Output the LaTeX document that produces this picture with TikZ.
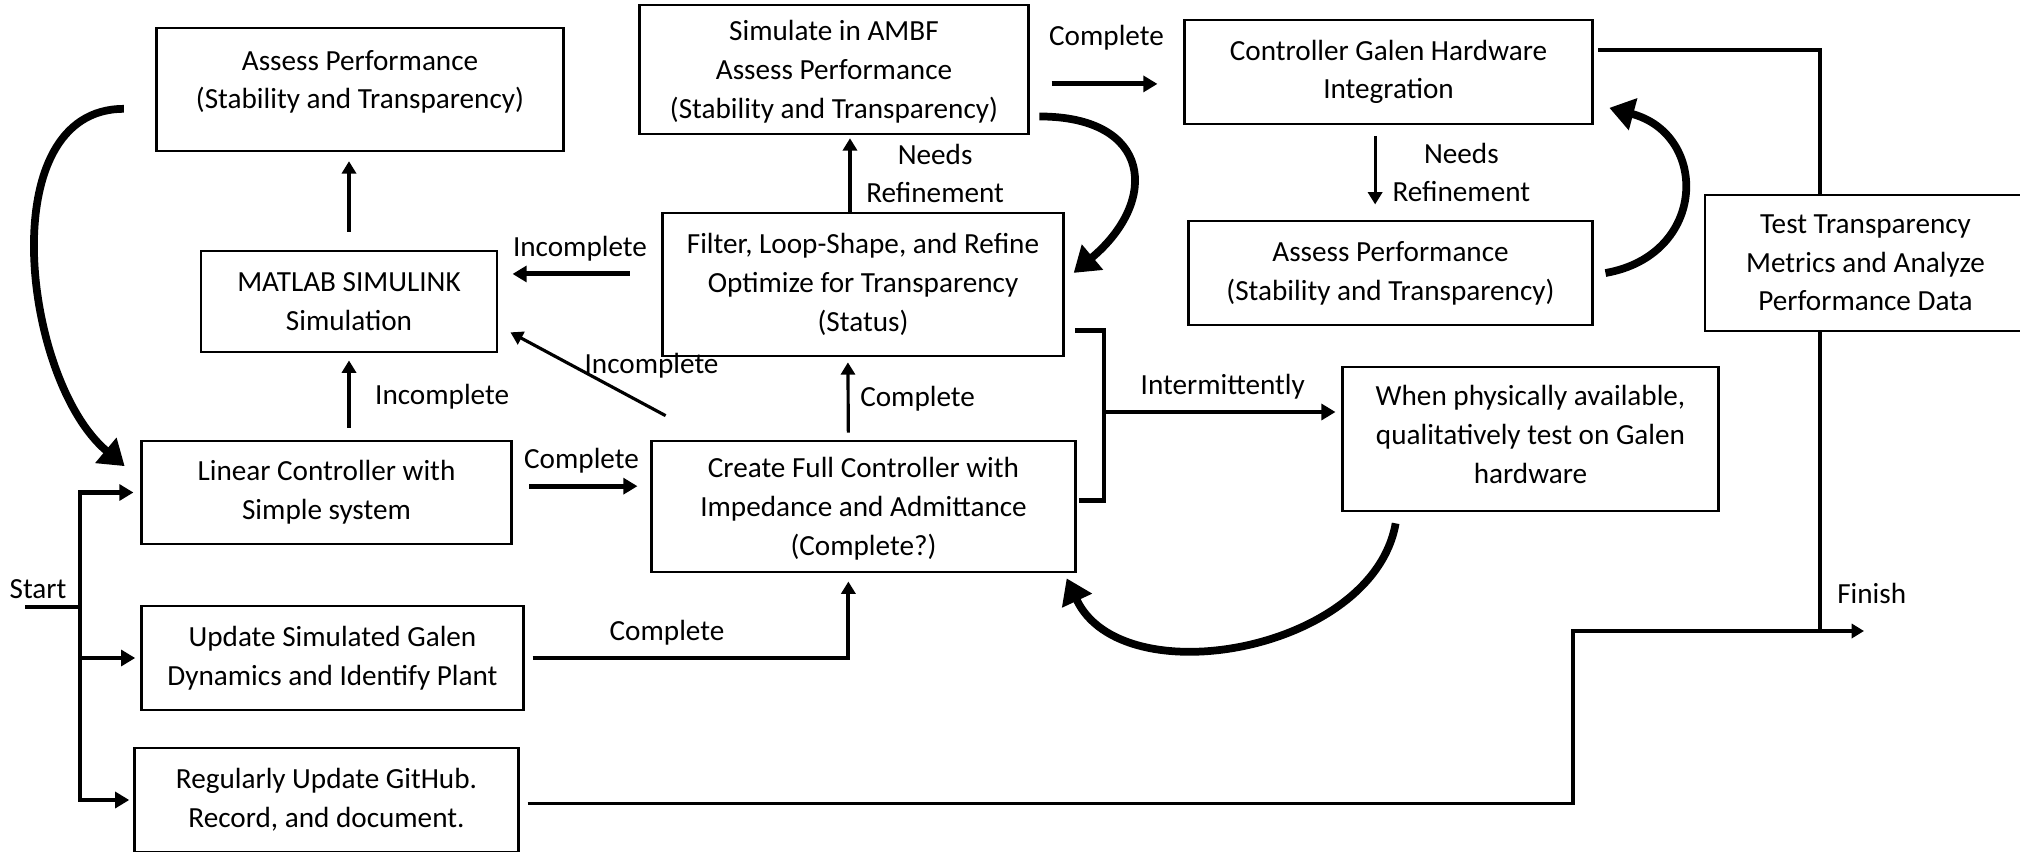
\documentclass[tikz,border=0pt]{standalone}
\usepackage{fontspec}
\setmainfont{Carlito}
\usepackage{xcolor}
\usepackage{tikz}
\usetikzlibrary{arrows.meta}
\definecolor{inkblack}{HTML}{000000}

\begin{document}
\begin{tikzpicture}[
    x=0.01cm, y=-0.01cm,
    font=\fontsize{8.3}{11}\selectfont,
    stage/.style={rectangle, draw=inkblack, fill=white, line width=0.8pt, inner sep=0pt, align=center},
    cond/.style={inner sep=3pt, align=center, text=inkblack},
    flow/.style={-{Triangle[width=4pt,length=3.5pt]}, line width=0.9pt, draw=inkblack},
    flowthick/.style={-{Triangle[width=4.5pt,length=4pt]}, line width=1.4pt, draw=inkblack},
    wire/.style={line width=1pt, draw=inkblack},
    loop/.style={-{Triangle[width=9pt,length=7pt]}, line width=2.2pt, draw=inkblack}
]
\useasboundingbox (0,0) rectangle (2020,851);

% Row 1: simulation assessment and hardware integration
\node[stage, minimum width=4.06cm, minimum height=1.23cm, text depth=5.7pt] (perf) at (360,89.5) {Assess Performance\\(Stability and Transparency)};
\node[stage, minimum width=3.88cm, minimum height=1.29cm, text depth=-1.9pt] (ambf) at (834,69.5) {Simulate in AMBF\\Assess Performance\\(Stability and Transparency)};
\node[stage, minimum width=4.07cm, minimum height=1.04cm] (cgh) at (1388.5,72) {Controller Galen Hardware\\Integration};

% Row 2: simulation, refinement, hardware assessment, metrics
\node[stage, minimum width=2.96cm, minimum height=1.01cm] (matlab) at (349,301.5) {MATLAB SIMULINK\\Simulation};
\node[stage, minimum width=4.00cm, minimum height=1.43cm] (filter) at (863,284.5) {Filter, Loop-Shape, and Refine\\Optimize for Transparency\\(Status)};
\node[stage, minimum width=4.03cm, minimum height=1.04cm] (perfhw) at (1390.5,273) {Assess Performance\\(Stability and Transparency)};
\node[stage, minimum width=3.21cm, minimum height=1.36cm] (metrics) at (1865.5,263) {Test Transparency\\Metrics and Analyze\\Performance Data};

% Row 3: controllers and hardware test
\node[stage, minimum width=3.69cm, minimum height=1.03cm] (linear) at (326.5,492.5) {Linear Controller with\\Simple system};
\node[stage, minimum width=4.23cm, minimum height=1.31cm, text depth=-1.7pt] (full) at (863.5,506.5) {Create Full Controller with\\Impedance and Admittance\\(Complete?)};
\node[stage, minimum width=3.75cm, minimum height=1.44cm, text depth=2.6pt] (galen) at (1530.5,439) {When physically available,\\qualitatively test on Galen\\hardware};

% Row 4: plant update and documentation
\node[stage, minimum width=3.81cm, minimum height=1.04cm] (plant) at (332.5,658) {Update Simulated Galen\\Dynamics and Identify Plant};
\node[stage, minimum width=3.83cm, minimum height=1.04cm] (github) at (326.5,800) {Regularly Update GitHub.\\Record, and document.};

% Start fork
\node[cond] (startlbl) at (38,589) {Start};
\coordinate (s0) at (25,607);
\coordinate (fork) at (80,607);
\draw[wire, line width=1.3pt] (s0) -- (fork);
\draw[flowthick, shorten >=2pt] (fork) |- (linear.west);
\draw[flowthick, shorten >=1.5pt] (fork) |- (plant.west);
\draw[flowthick, shorten >=1.2pt] (fork) |- (github.west);

% Simulation path
\draw[flow, shorten <=3.4pt, shorten >=2pt] (linear.north -| matlab.south) -- (matlab.south) node[cond, midway, right=4pt] {Incomplete};
\draw[flow, shorten <=5pt, shorten >=2.5pt] (matlab.north) -- (matlab.north |- perf.south);
\draw[flowthick, shorten <=4.8pt, shorten >=3.7pt] ([yshift=1.8pt]linear.east) -- ([yshift=1.8pt]linear.east -| full.west) node[cond, midway, above] {Complete};
\draw[flow, shorten <=2pt, shorten >=1.4pt] ([xshift=-4.3pt]full.north) -- ([xshift=-4.3pt]filter.south) node[cond, midway, right] {Complete};
\draw[flow] ([xshift=4.3pt,yshift=6.8pt]full.north west) -- ([xshift=3.4pt,yshift=6pt]matlab.south east) node[cond, pos=0.6, right=2pt, inner sep=1pt] {Incomplete};
\draw[flowthick, shorten <=9pt, shorten >=4pt] ([yshift=3pt]filter.west) -- ([yshift=3pt]filter.west -| matlab.east) node[cond, midway, above] {Incomplete};
\draw[flow, shorten >=0.8pt] ([xshift=-3.7pt]filter.north) -- ([xshift=-3.7pt]filter.north |- ambf.south) node[cond, midway, right=1.2pt] {Needs\\Refinement};
\draw[flowthick, shorten <=6.3pt, shorten >=7.4pt] ([yshift=-4.1pt]ambf.east) -- ([yshift=-4.1pt]ambf.east -| cgh.west) node[cond, midway, above=6pt] {Complete};
\draw[flow, shorten <=3pt, shorten >=4.3pt] ([xshift=-3.8pt]cgh.south) -- ([xshift=-3.8pt]cgh.south |- perfhw.north) node[cond, midway, right=1.5pt] {Needs\\Refinement};
\draw[flow, line width=1.2pt, shorten <=2.3pt, shorten >=2.3pt] (plant.east) -| ([xshift=-4.3pt]full.south) node[cond, pos=0.22, above] {Complete};

% Intermittent hardware test
\coordinate (brk) at (1104,412);
\draw[wire, line width=1.4pt] ([xshift=3pt,yshift=-13.2pt]filter.east) -| (brk) |- ([xshift=0.6pt,yshift=1.8pt]full.east);
\draw[flowthick, shorten >=1.7pt] (brk) -- (brk -| galen.west) node[cond, midway, above] {Intermittently};

% Finish
\coordinate (fin) at (1820,631);
\coordinate (stepup) at (1573,631);
\coordinate (finend) at (1864,631);
\draw[wire] ([xshift=1.4pt,yshift=6.2pt]cgh.east) -| (fin |- metrics.north);
\draw[wire] (fin |- metrics.south) -- (fin);
\draw[flow] ([xshift=2.3pt,yshift=-0.9pt]github.east) -| (stepup) -- (finend);
\node[cond, anchor=west] (finlbl) at (1826,593) {Finish};

% Feedback loops
\draw[loop] ([xshift=-9pt,yshift=-5.5pt]perf.west) to[out=180, in=140, looseness=0.95] ([xshift=-4.5pt,yshift=7.5pt]linear.west);
\draw[loop] ([xshift=2.8pt,yshift=5.4pt]ambf.south east) to[out=0, in=40, looseness=1.8] ([xshift=2.6pt,yshift=3.3pt]filter.east);
\draw[loop] ([xshift=3.4pt]perfhw.east) to[out=10, in=-15, looseness=1.6] ([xshift=4.5pt,yshift=5pt]cgh.south east);
\draw[loop] ([xshift=15.4pt,yshift=-3.1pt]galen.south west) to[out=-100, in=-65, looseness=1.0] ([xshift=-2.8pt,yshift=-1.4pt]full.south east);

\end{tikzpicture}
\end{document}
